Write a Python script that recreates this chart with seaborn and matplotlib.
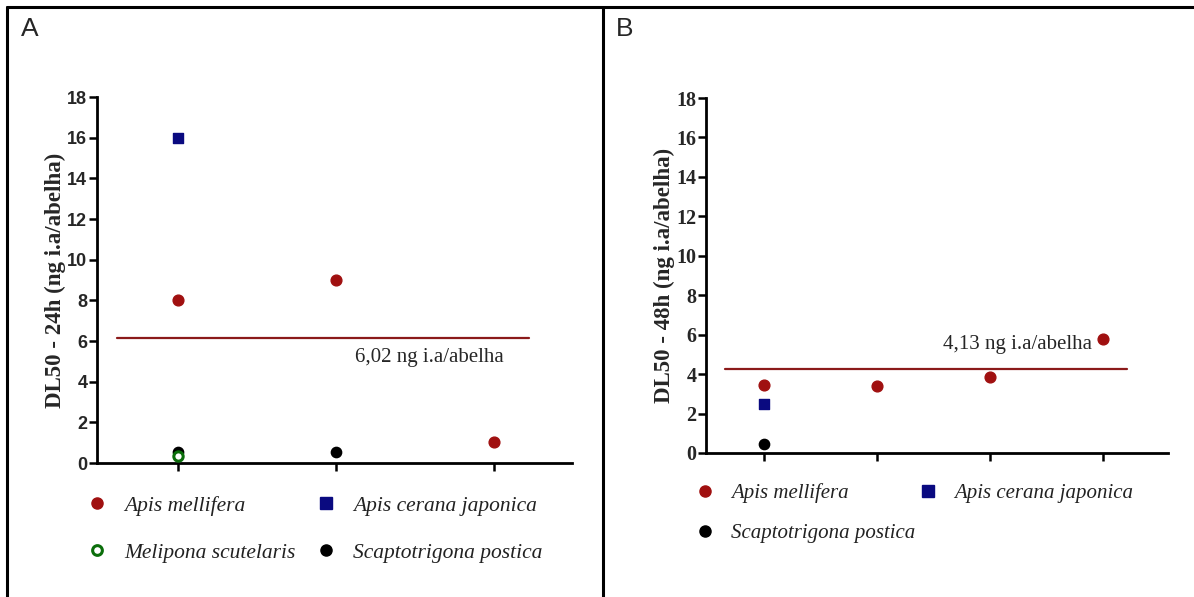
import numpy as np
import pandas as pd
import matplotlib
matplotlib.use("Agg")
import matplotlib.pyplot as plt
from matplotlib.lines import Line2D
import seaborn as sns

# --- Data ---
species = ["Apis mellifera", "Apis cerana japonica", "Melipona scutelaris", "Scaptotrigona postica"]

# panel A: DL50 24h
a_species = ["Apis mellifera", "Apis mellifera", "Apis mellifera",
             "Apis cerana japonica", "Melipona scutelaris",
             "Scaptotrigona postica", "Scaptotrigona postica"]
a_pos = [0, 1, 2, 0, 0, 0, 1]
a_vals = [8.0, 9.0, 1.05, 16.0, 0.35, 0.55, 0.55]
a_mean = 6.15
a_label = "6,02 ng i.a/abelha"

# panel B: DL50 48h
b_species = ["Apis mellifera", "Apis mellifera", "Apis mellifera", "Apis mellifera",
             "Apis cerana japonica", "Scaptotrigona postica"]
b_pos = [0, 1, 2, 3, 0, 0]
b_vals = [3.45, 3.4, 3.85, 5.8, 2.5, 0.45]
b_mean = 4.25
b_label = "4,13 ng i.a/abelha"

yticks = [0, 2, 4, 6, 8, 10, 12, 14, 16, 18]

# --- Styles ---
red = "#a01010"
blue = "#0a0a80"
green = "#0b6e0b"
black = "#000000"
line_red = "#8b1a1a"
styles = {
    "Apis mellifera": dict(marker="o", color=red, edgecolor=red, s=60),
    "Apis cerana japonica": dict(marker="s", color=blue, edgecolor=blue, s=55),
    "Melipona scutelaris": dict(marker="o", color="white", edgecolor=green, s=45, linewidth=2.2),
    "Scaptotrigona postica": dict(marker="o", color=black, edgecolor=black, s=55),
}
draw_order = ["Apis mellifera", "Apis cerana japonica", "Scaptotrigona postica", "Melipona scutelaris"]

sns.set_style("white")
plt.rcParams["font.family"] = ["Liberation Sans", "DejaVu Sans"]

fig = plt.figure(figsize=(11.94, 5.97), dpi=100)

# panel frames (figure pixel coords)
W, H = 1194, 597
for xs, ys in [([7, 1194], [7, 7]), ([7, 7], [7, 597]), ([603, 603], [7, 597])]:
    fig.add_artist(Line2D([x / W for x in xs], [1 - y / H for y in ys], color="black",
                          lw=2.2, transform=fig.transFigure))
fig.text(21 / W, 1 - 29 / H, "A", fontsize=19, va="center", ha="left")
fig.text(616 / W, 1 - 29 / H, "B", fontsize=19, va="center", ha="left")


def panel(rect, sp, pos, vals, ntick, xlim, mean, mean_x, label, label_xy, ylab, ylabpad, tickfont, ticksize,
          leg_order, leg_anchor, leg_rowspace, leg_colspace, leg_size):
    ax = fig.add_axes(rect)
    df = pd.DataFrame({"species": sp, "pos": pos, "val": vals})
    for name in draw_order:
        sub = df[df["species"] == name]
        if len(sub) == 0:
            continue
        st = styles[name]
        sns.scatterplot(data=sub, x="pos", y="val", ax=ax, marker=st["marker"], color=st["color"],
                        edgecolor=st["edgecolor"], s=st["s"], linewidth=st.get("linewidth", 1),
                        label=name, zorder=3, clip_on=False)
    ax.plot(mean_x, [mean, mean], color=line_red, lw=1.6, zorder=2)
    ax.text(label_xy[0], label_xy[1], label, fontsize=15, family="Liberation Serif",
            ha="left", va="center")
    ax.set_xlim(*xlim)
    ax.set_ylim(0, 18)
    ax.set_xticks(range(ntick))
    ax.set_xticklabels([])
    ax.set_yticks(yticks)
    ax.set_yticklabels([str(t) for t in yticks], fontsize=ticksize, fontweight="bold", family=tickfont)
    ax.set_xlabel("")
    ax.set_ylabel(ylab, fontsize=16.5, fontweight="bold", family="Liberation Serif", labelpad=ylabpad)
    sns.despine(ax=ax)
    for s in ["left", "bottom"]:
        ax.spines[s].set_linewidth(2)
        ax.spines[s].set_color("black")
    ax.tick_params(axis="both", direction="out", length=6, width=1.8, color="black", pad=1,
                   left=True, bottom=True)
    handles = {}
    for name in species:
        st = styles[name]
        handles[name] = Line2D([], [], ls="", marker=st["marker"], markerfacecolor=st["color"],
                               markeredgecolor=st["edgecolor"], markersize=8 if name != "Melipona scutelaris" else 7,
                               markeredgewidth=st.get("linewidth", 1))
    ax.legend([handles[n] for n in leg_order], leg_order, ncol=2, loc="upper left",
              bbox_to_anchor=leg_anchor, frameon=False, handletextpad=0.75, columnspacing=leg_colspace,
              labelspacing=leg_rowspace, handlelength=1.0, borderpad=0, borderaxespad=0,
              prop=dict(family="Liberation Serif", style="italic", size=leg_size))
    for t in ax.get_legend().get_texts():
        t.set_color("#222222")
    return ax


panel([97 / W, 1 - 463 / H, 475 / W, 366 / H], a_species, a_pos, a_vals, 3, (-0.513, 2.49),
      a_mean, [-0.386, 2.215], a_label, (1.12, 5.2), "DL50 - 24h (ng i.a/abelha)", 1,
      "Liberation Sans", 13,
      ["Apis mellifera", "Melipona scutelaris", "Apis cerana japonica", "Scaptotrigona postica"],
      (-0.0227, -0.090), 1.25, 0.93, 15.5)

panel([706 / W, 1 - 453 / H, 462 / W, 355 / H], b_species, b_pos, b_vals, 4, (-0.513, 3.575),
      b_mean, [-0.345, 3.21], b_label, (1.58, 5.5), "DL50 - 48h (ng i.a/abelha)", 0.5,
      "Liberation Serif", 14.5,
      ["Apis mellifera", "Scaptotrigona postica", "Apis cerana japonica"],
      (-0.0255, -0.085), 0.99, 0.15, 15)

fig.savefig("out.png", dpi=100, facecolor="white")
